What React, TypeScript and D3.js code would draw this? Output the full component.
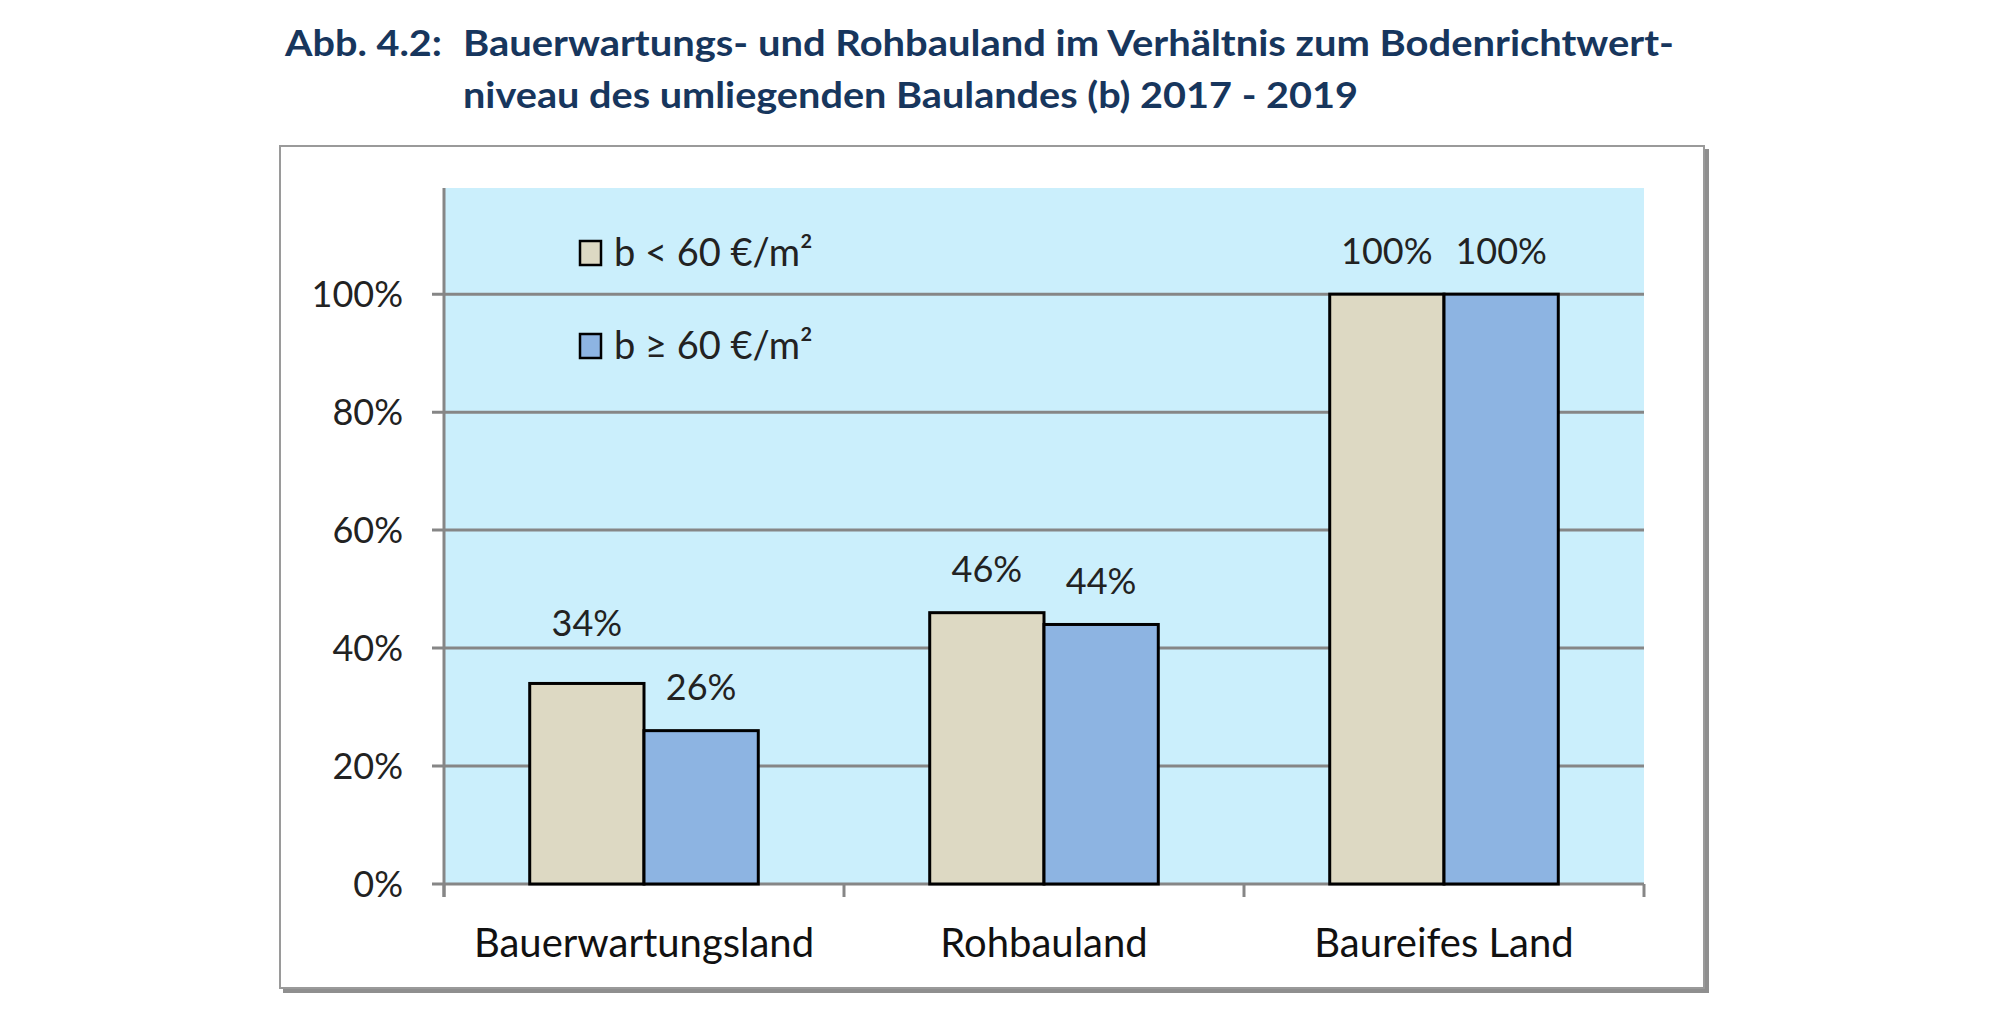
import { useEffect, useRef } from "react";
import * as d3 from "d3";

const categories = ["Bauerwartungsland", "Rohbauland", "Baureifes Land"];
const seriesNames = ["b < 60 €/m²", "b ≥ 60 €/m²"];
const lowValues = [34, 46, 100];
const highValues = [26, 44, 100];
const yTicks = [0, 20, 40, 60, 80, 100];
const titleLines = [
  "Bauerwartungs- und Rohbauland im Verhältnis zum Bodenrichtwert-",
  "niveau des umliegenden Baulandes (b) 2017 - 2019",
];

const colors = ["#DDD9C3", "#8DB4E2"];
const font = "Lato, 'Open Sans', sans-serif";

export default function App() {
  const svgRef = useRef<SVGSVGElement>(null);

  useEffect(() => {
    if (!svgRef.current) return;
    const svg = d3.select(svgRef.current);
    svg.selectAll("*").remove();

    const plot = { left: 444, right: 1644, top: 188, bottom: 884 };
    const x0 = d3.scaleBand<string>().domain(categories).range([plot.left, plot.right]).padding(0);
    const x1 = d3.scaleBand<string>().domain(seriesNames).range([0, x0.bandwidth()]).paddingInner(0).paddingOuter(0.75);
    const y = d3.scaleLinear().domain([0, 118]).range([plot.bottom, plot.top]);

    // title (the original is set a bit wider than Lato, so stretch to fit)
    const title = svg.append("g").attr("font-family", font).attr("font-weight", 700).attr("fill", "#17365D").attr("font-size", 37);
    title.append("text").attr("x", 285).attr("y", 56).attr("textLength", 157).attr("lengthAdjust", "spacingAndGlyphs").text("Abb. 4.2:");
    const titleWidths = [1211, 895];
    titleLines.forEach((t, i) => {
      title.append("text").attr("x", 463).attr("y", 56 + i * 52)
        .attr("textLength", titleWidths[i]).attr("lengthAdjust", "spacingAndGlyphs").text(t);
    });

    // frame with shadow
    svg.append("rect").attr("x", 283).attr("y", 149).attr("width", 1426).attr("height", 844).attr("fill", "#8f8f8f");
    svg.append("rect").attr("x", 280).attr("y", 146).attr("width", 1424).attr("height", 842)
      .attr("fill", "#fff").attr("stroke", "#9a9a9a").attr("stroke-width", 2);

    // plot background
    svg.append("rect").attr("x", plot.left).attr("y", plot.top)
      .attr("width", plot.right - plot.left).attr("height", plot.bottom - plot.top).attr("fill", "#CBEFFC");

    // gridlines + y ticks
    const gy = svg.append("g");
    yTicks.forEach((t) => {
      gy.append("line").attr("x1", plot.left - 12).attr("x2", plot.right)
        .attr("y1", y(t)).attr("y2", y(t)).attr("stroke", "#868686").attr("stroke-width", 3);
      gy.append("text").attr("x", 403).attr("y", y(t)).attr("dy", "0.35em").attr("text-anchor", "end")
        .attr("font-family", font).attr("font-size", 36).attr("fill", "#222").text(`${t}%`);
    });

    // y axis line
    svg.append("line").attr("x1", plot.left).attr("x2", plot.left).attr("y1", plot.top).attr("y2", plot.bottom + 13)
      .attr("stroke", "#868686").attr("stroke-width", 3);

    // category ticks
    const bounds = categories.map((c) => x0(c)!).concat([plot.right]);
    bounds.forEach((bx) => {
      svg.append("line").attr("x1", bx).attr("x2", bx).attr("y1", plot.bottom).attr("y2", plot.bottom + 13)
        .attr("stroke", "#868686").attr("stroke-width", 3);
    });

    // bars
    const rows = categories.map((c, i) => ({ cat: c, vals: [lowValues[i], highValues[i]] }));
    const groups = svg.append("g").selectAll("g").data(rows).join("g")
      .attr("transform", (d) => `translate(${x0(d.cat)},0)`);
    groups.selectAll("rect").data((d) => d.vals.map((v, k) => ({ v, k }))).join("rect")
      .attr("x", (d) => x1(seriesNames[d.k])!)
      .attr("y", (d) => y(d.v))
      .attr("width", x1.bandwidth())
      .attr("height", (d) => y(0) - y(d.v))
      .attr("fill", (d) => colors[d.k])
      .attr("stroke", "#000").attr("stroke-width", 3);

    // data labels (first one was moved up a bit in the original)
    const nudge: Record<string, number> = { "0-0": -17 };
    rows.forEach((r, i) => {
      r.vals.forEach((v, k) => {
        svg.append("text")
          .attr("x", x0(r.cat)! + x1(seriesNames[k])! + x1.bandwidth() / 2)
          .attr("y", y(v) - 43 + (nudge[`${i}-${k}`] ?? 0))
          .attr("dy", "0.35em").attr("text-anchor", "middle")
          .attr("font-family", font).attr("font-size", 36).attr("fill", "#222").text(`${v}%`);
      });
    });

    // category labels
    categories.forEach((c) => {
      svg.append("text").attr("x", x0(c)! + x0.bandwidth() / 2).attr("y", 943).attr("dy", "0.35em")
        .attr("text-anchor", "middle").attr("font-family", font).attr("font-size", 40).attr("fill", "#111").text(c);
    });

    // legend
    seriesNames.forEach((s, k) => {
      const cy = 253 + k * 93;
      svg.append("rect").attr("x", 580).attr("y", cy - 12).attr("width", 21).attr("height", 24)
        .attr("fill", colors[k]).attr("stroke", "#000").attr("stroke-width", 2.5);
      svg.append("text").attr("x", 614).attr("y", cy).attr("dy", "0.35em")
        .attr("font-family", font).attr("font-size", 38).attr("fill", "#222").text(s);
    });
  }, []);

  return (
    <svg ref={svgRef} width={1999} height={1022}
      style={{ position: "absolute", left: 0, top: 0, background: "#fff", display: "block" }} />
  );
}
